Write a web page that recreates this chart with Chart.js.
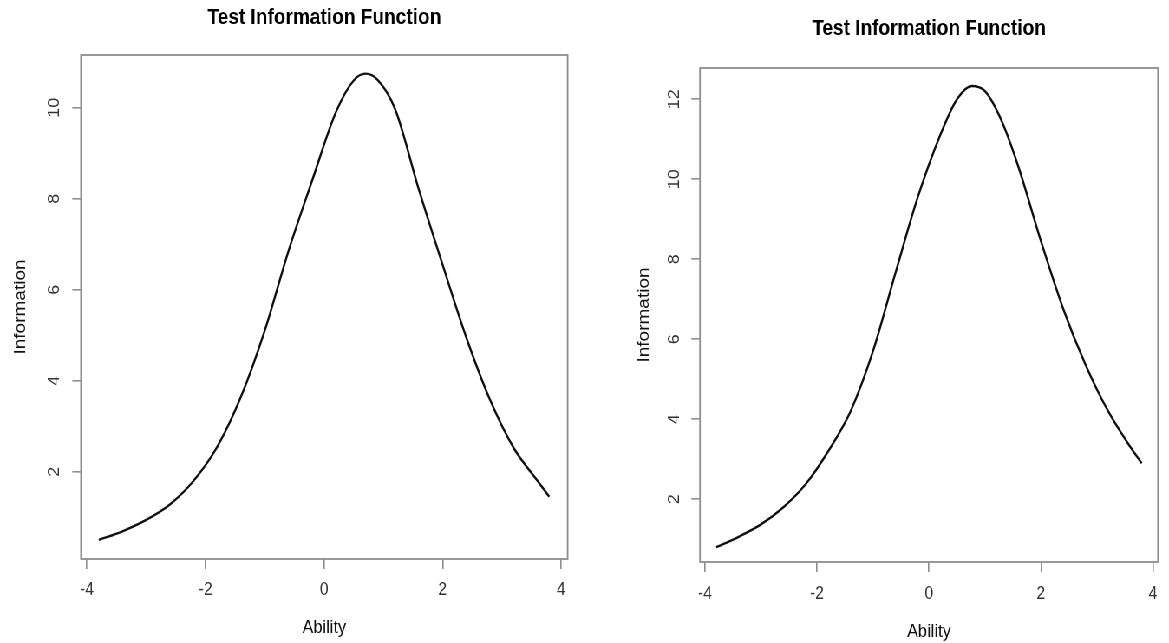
<!DOCTYPE html>
<html>
<head>
<meta charset="utf-8">
<title>Test Information Function</title>
<script src="https://cdn.jsdelivr.net/npm/chart.js@4.4.1/dist/chart.umd.min.js"></script>
<style>
  html, body { margin: 0; padding: 0; background: #fff; overflow: hidden; }
  /* the source picture is squeezed horizontally, so the whole stage is too */
  #stage { position: absolute; left: 0; top: 0; width: 1348px; height: 643px;
           transform: scaleX(0.8672); transform-origin: 0 0; }
  .panel { position: absolute; top: 0; height: 643px; }
  #leftPanel { left: 0; width: 700px; }
  #rightPanel { left: 700px; width: 648px; }
</style>
</head>
<body>
<div id="stage">
  <div class="panel" id="leftPanel"><canvas id="leftChart"></canvas></div>
  <div class="panel" id="rightPanel"><canvas id="rightChart"></canvas></div>
</div>
<script>
// texts
const plotTitle = 'Test Information Function';
const xLabel = 'Ability';
const yLabel = 'Information';

// tick labels
const xTicks = [-4, -2, 0, 2, 4];
const leftYTicks = [2, 4, 6, 8, 10];
const rightYTicks = [2, 4, 6, 8, 10, 12];

// left panel curve
const leftAbility = [-3.8, -3.4, -3.0, -2.6, -2.2, -1.8, -1.4, -1.0, -0.6, -0.2, 0.2, 0.5, 0.7, 0.9, 1.2, 1.6, 2.0, 2.4, 2.8, 3.2, 3.6, 3.8];
const leftInfo    = [0.50, 0.69, 0.94, 1.28, 1.80, 2.55, 3.65, 5.10, 6.85, 8.40, 9.90, 10.60, 10.75, 10.62, 9.97, 8.20, 6.55, 4.95, 3.58, 2.52, 1.80, 1.45];

// right panel curve
const rightAbility = [-3.8, -3.4, -3.0, -2.6, -2.2, -1.8, -1.4, -1.0, -0.6, -0.2, 0.2, 0.5, 0.77, 1.0, 1.3, 1.6, 2.0, 2.4, 2.8, 3.2, 3.6, 3.8];
const rightInfo    = [0.80, 1.06, 1.37, 1.80, 2.38, 3.20, 4.20, 5.70, 7.65, 9.55, 11.10, 12.00, 12.33, 12.20, 11.45, 10.30, 8.45, 6.75, 5.35, 4.20, 3.30, 2.90];

const fontFamily = '"Liberation Sans", Arial, sans-serif';
const frameGrey = '#8e8e8e';

// R style box + main title
const rPlotPlugin = {
    id: 'rPlot',
    afterDraw(chart, args, opts) {
        const { ctx, chartArea: a } = chart;
        ctx.save();
        ctx.strokeStyle = frameGrey;
        ctx.lineWidth = 1.8;
        ctx.strokeRect(a.left, a.top, a.right - a.left, a.bottom - a.top);

        ctx.fillStyle = '#000';
        ctx.font = 'bold 22px ' + fontFamily;
        ctx.textAlign = 'center';
        ctx.textBaseline = 'middle';
        ctx.fillText(opts.text, (a.left + a.right) / 2, opts.y);
        ctx.restore();
    }
};

function buildChart(canvasId, ability, info, yTicks, box) {
    const ctx = document.getElementById(canvasId).getContext('2d');
    const points = ability.map((x, i) => ({ x: x, y: info[i] }));

    return new Chart(ctx, {
        type: 'scatter',
        data: {
            datasets: [{
                data: points,
                showLine: true,
                borderColor: '#111',
                borderWidth: 2.4,
                pointRadius: 0,
                cubicInterpolationMode: 'monotone',
                fill: false
            }]
        },
        plugins: [rPlotPlugin],
        options: {
            responsive: true,
            maintainAspectRatio: false,
            animation: false,
            events: [],
            layout: { padding: { top: box.top, right: box.right, bottom: 0, left: 0 } },
            plugins: {
                legend: { display: false },
                tooltip: { enabled: false },
                title: { display: false },
                rPlot: { text: plotTitle, y: box.titleY }
            },
            scales: {
                x: {
                    type: 'linear',
                    position: 'bottom',
                    min: box.xMin,
                    max: box.xMax,
                    afterBuildTicks: s => { s.ticks = xTicks.map(v => ({ value: v })); },
                    afterFit: s => { s.height = box.xHeight; s.paddingLeft = 0; s.paddingRight = 0; },
                    grid: { drawOnChartArea: false, drawTicks: true, tickLength: 10, color: frameGrey, lineWidth: 1.6 },
                    border: { display: false },
                    ticks: { padding: box.xTickPad, color: '#333', font: { family: fontFamily, size: 18 }, callback: v => String(v) },
                    title: { display: true, text: xLabel, color: '#111', font: { family: fontFamily, size: 19 }, padding: { top: 0, bottom: box.xTitlePad } }
                },
                y: {
                    type: 'linear',
                    position: 'left',
                    min: box.yMin,
                    max: box.yMax,
                    afterBuildTicks: s => { s.ticks = yTicks.map(v => ({ value: v })); },
                    afterFit: s => { s.width = box.yWidth; s.paddingTop = 0; s.paddingBottom = 0; },
                    grid: { drawOnChartArea: false, drawTicks: true, tickLength: 10, color: frameGrey, lineWidth: 1.6 },
                    border: { display: false },
                    ticks: { minRotation: 90, maxRotation: 90, crossAlign: 'center', padding: box.yTickPad, color: '#333', font: { family: fontFamily, size: 18 }, callback: v => String(v) },
                    title: { display: true, text: yLabel, color: '#111', font: { family: fontFamily, size: 19 }, padding: { top: box.yTitlePad, bottom: 0 } }
                }
            }
        }
    });
}

buildChart('leftChart', leftAbility, leftInfo, leftYTicks, {
    top: 55, right: 45.4, yWidth: 93.4, xHeight: 84, titleY: 17.5,
    xMin: -4.1, xMax: 4.11, yMin: 0.08, yMax: 11.16,
    xTickPad: 10.5, xTitlePad: 3.6, yTickPad: 10, yTitlePad: 12.8
});

buildChart('rightChart', rightAbility, rightInfo, rightYTicks, {
    top: 68, right: 12.7, yWidth: 107.2, xHeight: 81, titleY: 29,
    xMin: -4.09, xMax: 4.09, yMin: 0.43, yMax: 12.78,
    xTickPad: 11, xTitlePad: 0, yTickPad: 8.8, yTitlePad: 31.2
});
</script>
</body>
</html>
